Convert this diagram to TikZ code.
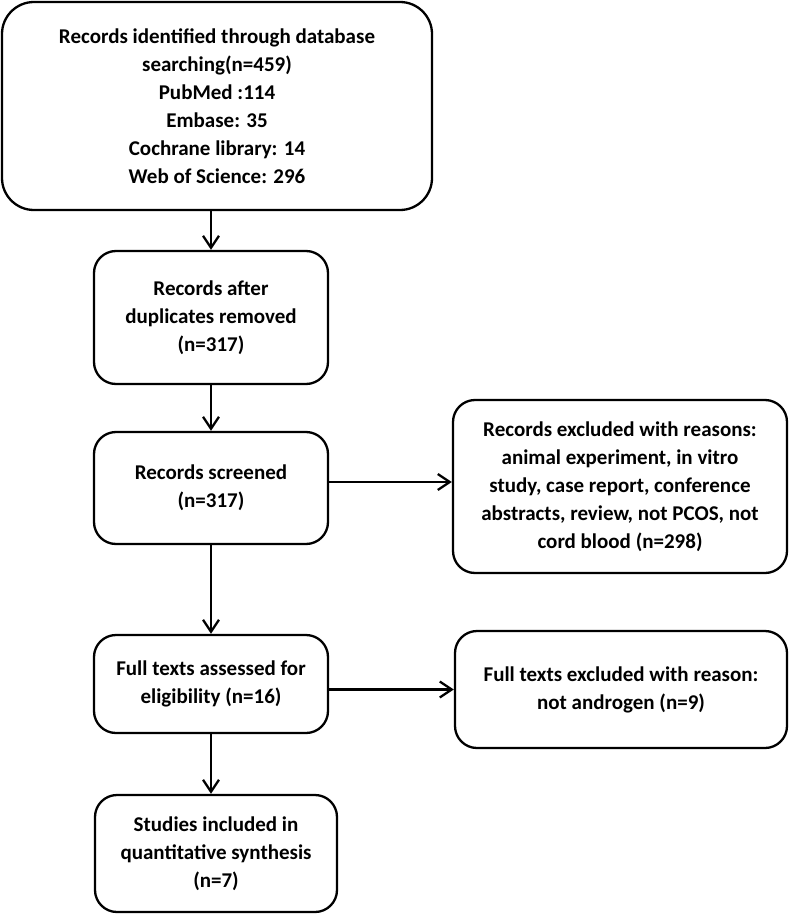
\documentclass[tikz,border=0pt]{standalone}
\usepackage{fontspec}
\setmainfont{Carlito}
\usetikzlibrary{arrows.meta}

\begin{document}
\begin{tikzpicture}[x=1pt, y=-1pt, line width=2.3pt,
    box/.style={draw, rounded corners=22pt, align=center, inner sep=0pt,
        font=\bfseries\fontsize{21}{28}\selectfont},
    >={Straight Barb[length=12pt, width=16pt]}]
    \useasboundingbox (0,0) rectangle (789,915);

    \node[box, rounded corners=32pt, minimum width=430pt, minimum height=208pt] (src) at (217,106)
        {Records identified through database\\ searching(n=459)\\ PubMed :114\\ Embase: 35\\ Cochrane library: 14\\ Web of Science: 296};
    \node[box, minimum width=234pt, minimum height=133pt] (dedup) at (211,317.5)
        {Records after\\ duplicates removed\\ (n=317)};
    \node[box, minimum width=234pt, minimum height=112pt] (screen) at (211,488)
        {Records screened\\ (n=317)};
    \node[box, minimum width=334pt, minimum height=173pt] (excl) at (620,486.5)
        {Records excluded with reasons:\\ animal experiment, in vitro\\ study, case report, conference\\ abstracts, review, not PCOS, not\\ cord blood (n=298)};
    \node[box, minimum width=234pt, minimum height=98pt] (full) at (211,684)
        {Full texts assessed for\\ eligibility (n=16)};
    \node[box, minimum width=332pt, minimum height=117pt] (fullex) at (621,689.5)
        {Full texts excluded with reason:\\ not androgen (n=9)};
    \node[box, minimum width=242pt, minimum height=117pt] (incl) at (216,853.5)
        {Studies included in\\ quantitative synthesis\\ (n=7)};

    \draw[->] (src.south -| dedup) -- (dedup.north);
    \draw[->] (dedup) -- (screen);
    \draw[->] (screen) -- (full);
    \draw[->] (full.south) -- (full.south |- incl.north);
    \draw[->] ([yshift=6pt]screen.east) -- ([yshift=6pt]screen.east -| excl.west);
    \draw[->] (full.east |- fullex.west) -- (fullex.west);
\end{tikzpicture}
\end{document}
